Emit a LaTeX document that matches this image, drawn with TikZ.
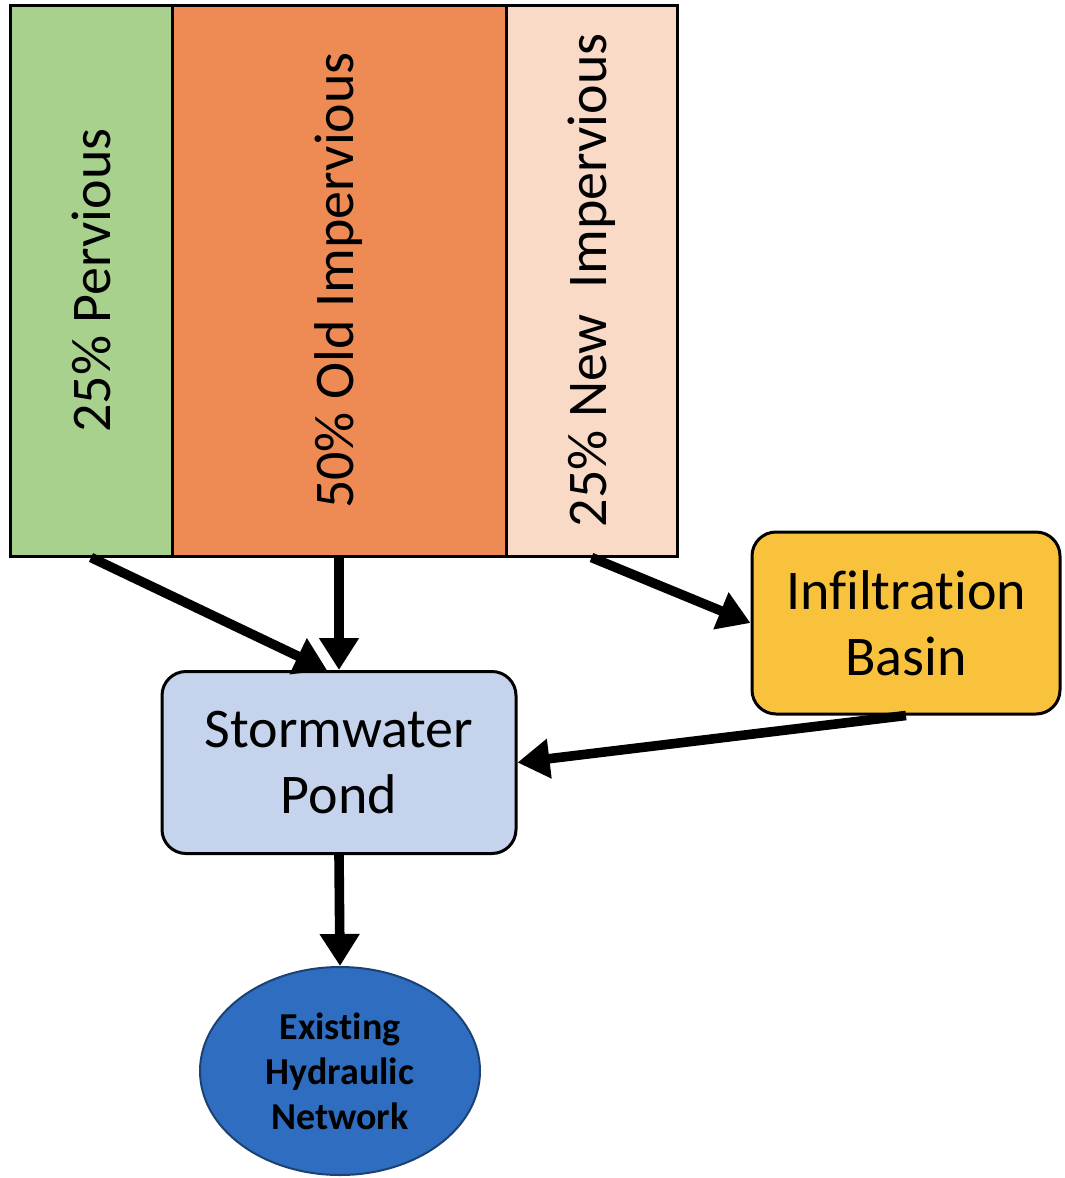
\documentclass[tikz,border=0pt]{standalone}
\usepackage{fontspec}
\setmainfont[RawFeature={-liga;-clig;-calt;-dlig}]{Carlito}
\usepackage{graphicx}
\usetikzlibrary{arrows.meta,shapes.geometric,calc}

\definecolor{pervious}{HTML}{A9D18E}
\definecolor{oldimp}{HTML}{EE8B55}
\definecolor{newimp}{HTML}{F9DAC6}
\definecolor{pond}{HTML}{C6D3EC}
\definecolor{basin}{HTML}{F9C23C}
\definecolor{network}{HTML}{2E6DBF}

\begin{document}
\begin{tikzpicture}[x=0.5pt,y=0.5pt,
        area/.style={draw, line width=1.5pt, minimum width=#1*0.5pt, minimum height=275.5pt, inner sep=0pt, font=\fontsize{28}{32}\selectfont},
        box/.style={draw, line width=1.5pt, rounded corners=12pt, align=center, minimum height=91pt, font=\fontsize{28}{33}\selectfont},
        flow/.style={line width=4.8pt, -{Triangle[length=16pt,width=19pt]}}]
    \useasboundingbox (0,0) rectangle (1065,-1178);

    \node[area=162, fill=pervious] (P) at (91,-280.5) {\rotatebox{90}{25\% Pervious}};
    \node[area=334, fill=oldimp] (O) at (339,-280.5) {\rotatebox{90}{50\% Old Impervious}};
    \node[area=171, fill=newimp] (N) at (591.5,-280.5) {\rotatebox{90}{25\% New~~Impervious}};

    \node[box, fill=pond, minimum width=177pt] (S) at (339,-762.5) {Stormwater\\Pond};
    \node[box, fill=basin, minimum width=154pt] (I) at (906,-623) {Infiltration\\Basin};
    \node[draw=network!60!black, ellipse, fill=network, line width=1pt, minimum width=140pt, minimum height=104pt, align=center,
          font=\fontsize{19}{22.5}\selectfont\bfseries] (E) at (340,-1071) {Existing\\Hydraulic\\Network};

    \draw[flow] (P.south) -- ($(S.north)+(-12,0)$);
    \draw[flow] (O.south) -- (S.north);
    \draw[flow] (N.south) -- (I.west);
    \draw[flow] (I.south) -- (S.east);
    \draw[flow] (S.south) -- (E.north);
\end{tikzpicture}
\end{document}
